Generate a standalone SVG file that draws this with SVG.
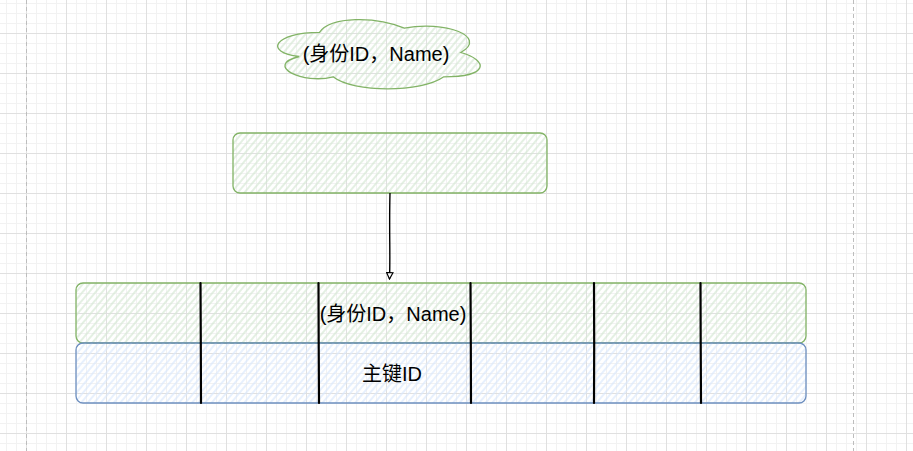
<svg xmlns="http://www.w3.org/2000/svg" width="913" height="451" viewBox="0 0 913 451">
  <defs>
    <pattern id="grid" x="26" y="33" width="40" height="40" patternUnits="userSpaceOnUse">
      <rect x="10" y="0" width="1" height="40" fill="#f2f2f2"/>
      <rect x="20" y="0" width="1" height="40" fill="#f2f2f2"/>
      <rect x="30" y="0" width="1" height="40" fill="#f2f2f2"/>
      <rect x="0" y="10" width="40" height="1" fill="#f2f2f2"/>
      <rect x="0" y="20" width="40" height="1" fill="#f2f2f2"/>
      <rect x="0" y="30" width="40" height="1" fill="#f2f2f2"/>
      <rect x="0" y="0" width="1" height="40" fill="#e0e0e0"/>
      <rect x="0" y="0" width="40" height="1" fill="#e0e0e0"/>
    </pattern>
    <pattern id="hatchGreen" width="5" height="5" patternUnits="userSpaceOnUse" patternTransform="rotate(40)">
      <line x1="1" y1="0" x2="1" y2="5" stroke="#d5e8d4" stroke-width="1.3"/>
    </pattern>
    <pattern id="hatchBlue" width="5" height="5" patternUnits="userSpaceOnUse" patternTransform="rotate(40)">
      <line x1="1" y1="0" x2="1" y2="5" stroke="#dae8fc" stroke-width="1.3"/>
    </pattern>
    <marker id="arrow" viewBox="0 0 10 10" refX="9" refY="5" markerWidth="8" markerHeight="8" markerUnits="userSpaceOnUse" orient="auto">
      <path d="M1,1 L9,5 L1,9 Z" fill="#ffffff" stroke="#000000" stroke-width="1.5"/>
    </marker>
    <style>
      .txt { font-family: "Liberation Sans", "Noto Sans CJK SC", sans-serif; font-size: 20px; fill: #000000; text-anchor: middle; }
      .green { fill: url(#hatchGreen); stroke: #82b366; stroke-width: 1.3; }
      .blue { fill: url(#hatchBlue); stroke: #6c8ebf; stroke-width: 1.3; }
      .divider { stroke: #000000; stroke-width: 2.2; fill: none; stroke-linecap: round; }
      .page { stroke: #bdbdbd; stroke-width: 1; stroke-dasharray: 4 3; }
    </style>
  </defs>

  <rect x="0" y="0" width="913" height="451" fill="#ffffff"/>
  <rect x="0" y="0" width="913" height="451" fill="url(#grid)"/>
  <line class="page" x1="26.5" y1="0" x2="26.5" y2="451"/>
  <line class="page" x1="853.5" y1="0" x2="853.5" y2="451"/>

  <g id="cloud">
    <path class="green" d="M319.5,32.3 C274.3,32.3 263,52.5 299.2,56.5 C263,65.5 303.7,84.9 333.1,76.8 C353.4,93 421.2,93 443.8,76.8 C489,76.8 489,60.6 460.8,52.5 C489,36.3 443.8,20.1 404.3,28.2 C376,16.1 330.8,16.1 319.5,32.3 Z"/>
    <text class="txt" x="376" y="61">(身份ID，Name)</text>
  </g>

  <g id="top-box">
    <rect class="green" x="233" y="133" width="314" height="60" rx="7" ry="7"/>
  </g>

  <g id="row-green">
    <rect class="green" x="76" y="283" width="730" height="60" rx="7" ry="7"/>
    <text class="txt" x="393" y="321">(身份ID，Name)</text>
  </g>

  <g id="row-blue">
    <rect class="blue" x="76" y="343" width="730" height="60" rx="7" ry="7"/>
    <text class="txt" x="392" y="381">主键ID</text>
  </g>

  <g id="divider-1"><path class="divider" d="M200.5,283 L200.8,343 L201,403"/></g>
  <g id="divider-2"><path class="divider" d="M318.5,283 L318.7,343 L319,403"/></g>
  <g id="divider-3"><path class="divider" d="M470.5,283 L470.8,343 L471,403"/></g>
  <g id="divider-4"><path class="divider" d="M594,283 L594.2,343 L594,403"/></g>
  <g id="divider-5"><path class="divider" d="M700.5,283 L700.7,343 L701,403"/></g>

  <g id="connectors">
    <path d="M390,193 C389,230 390.5,255 389.5,279" fill="none" stroke="#000000" stroke-width="1.4" marker-end="url(#arrow)"/>
  </g>
</svg>
